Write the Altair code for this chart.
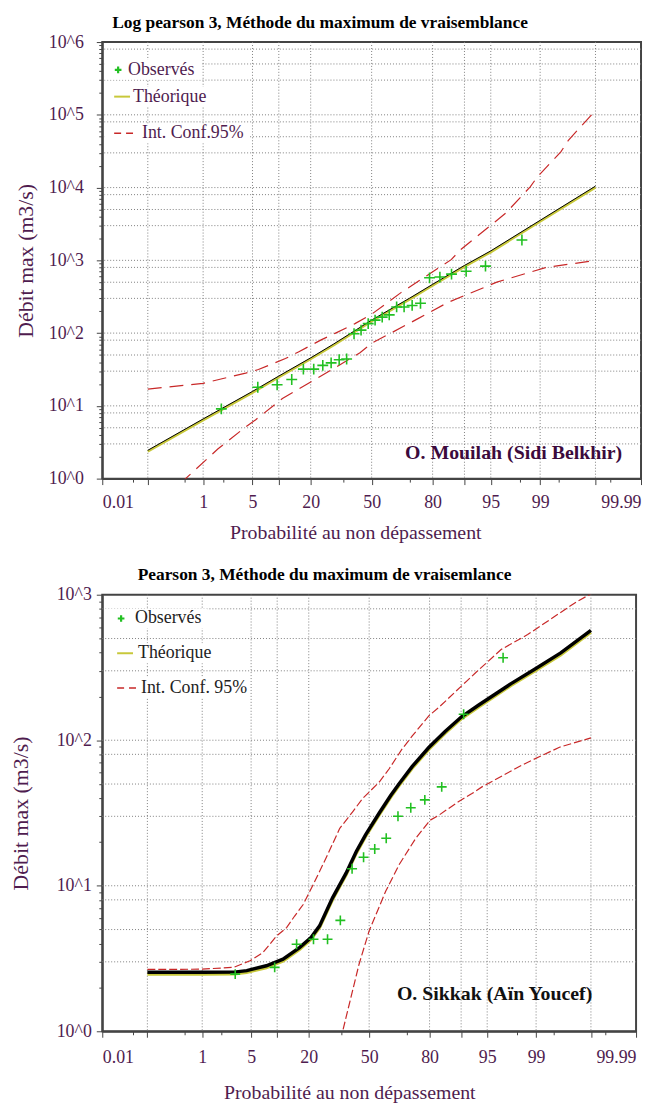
import altair as alt
import pandas as pd
from statistics import NormalDist

# ---------------- axis definitions ----------------
x_tick_probs = [0.01, 0.05, 0.1, 0.5, 1, 2, 5, 10, 20, 35, 50, 70, 80, 90, 95, 98, 99, 99.5, 99.9, 99.95, 99.99]
x_major_probs = [0.01, 0.1, 1, 5, 10, 20, 50, 80, 90, 95, 99, 99.9, 99.99]
x_grid_probs = [0.1, 1, 5, 10, 20, 50, 80, 90, 95, 99, 99.9]
x_label_probs = [0.01, 1, 5, 20, 50, 80, 95, 99, 99.99]
y_tick_mantissas = [1, 2, 3, 4, 5, 6, 7, 8, 9]
y_grid_mantissas = [1, 3, 5, 8]

# ---------------- top panel : Log Pearson 3 ----------------
top_obs_p = [1.9, 5.8, 9.6, 13.5, 17.3, 21.2, 25.0, 28.8, 32.7, 36.5, 40.4, 44.2, 48.1,
             51.9, 55.8, 59.6, 63.5, 67.3, 71.2, 75.0, 78.8, 82.7, 86.5, 90.4, 94.2, 98.1]
top_obs_q = [9.1, 18, 19.5, 23, 32, 32, 36, 39, 43, 44, 98, 110, 135,
             151, 166, 178, 229, 229, 240, 257, 575, 589, 646, 708, 832, 1905]
top_theo_p = [0.1, 1, 5, 10, 20, 30, 50, 70, 80, 90, 95, 99, 99.9]
top_theo_q = [2.45, 6.61, 15.8, 25.7, 45.7, 70.8, 151, 302, 468, 851, 1349, 3548, 10470]
top_up_p = [0.1, 1, 4.1, 5.9, 11.7, 15.6, 24.5, 30.9, 40.9, 50, 65.9, 86.4, 89.1,
            95.6, 96.8, 98.57, 98.9, 99.55, 99.67, 99.9]
top_up_q = [17.0, 20.4, 28.2, 31.6, 44.7, 55.0, 81.3, 100, 135, 182, 363, 1023, 1413,
            3388, 4467, 10230, 14130, 30900, 44670, 114800]
top_lo_p = [0.1, 0.51, 1.7, 4.09, 5.48, 10.9, 22.7, 43.6, 50, 73.9, 85.3, 95.8, 99.18, 99.9]
top_lo_q = [0.34, 1.0, 2.57, 5.13, 6.46, 12.6, 24.0, 53.7, 72.4, 158, 263, 501, 794, 1000]

# ---------------- bottom panel : Pearson 3 ----------------
bot_obs_p = [3.1, 9.4, 15.6, 21.9, 28.1, 34.4, 40.6, 46.9, 53.1, 59.4, 65.6, 71.9, 78.1, 84.4, 90.6, 96.9]
bot_obs_q = [2.47, 2.75, 3.96, 4.29, 4.29, 5.78, 13.1, 15.7, 17.9, 21.2, 30.0, 34.4, 38.9, 47.8, 151, 369]
bot_theo_p = [0.1, 1, 3, 4.4, 7.6, 11.5, 16.6, 20.9, 24.5, 30.5, 37.4, 42.9, 48.0, 55.6, 61.8,
              66.1, 72.6, 79.7, 85.5, 90.1, 93.6, 97.6, 98.96, 99.62, 99.9]
bot_theo_q = [2.54, 2.54, 2.55, 2.61, 2.82, 3.13, 3.76, 4.41, 5.30, 8.26, 12.2, 17.2, 22.4, 31.6, 41.7,
              50.1, 66.1, 89.1, 115, 145, 174, 245, 309, 398, 569]
bot_up_p = [0.1, 0.94, 2.94, 4.85, 6.94, 9.85, 12.5, 14.9, 17.9, 21.8, 27.4, 34.1, 40.9, 46.4,
            55.6, 61.0, 67.7, 72.6, 79.7, 83.4, 91.3, 93.1, 96.7, 98.64, 99.51, 99.81, 99.9]
bot_up_q = [2.66, 2.67, 2.75, 3.05, 3.47, 4.52, 5.15, 6.17, 7.43, 10.2, 15.5, 24.8, 32.2, 39.8,
            51.6, 63.7, 87.1, 107, 147, 168, 255, 291, 420, 532, 708, 897, 1012]
bot_lo_p = [34.5, 37.4, 44.4, 50, 59.1, 66.1, 74.2, 80.2, 83.4, 89.3, 92.4, 94.2, 98.3, 98.81, 99.6, 99.9]
bot_lo_q = [0.87, 1.25, 2.89, 4.90, 9.16, 13.9, 21.2, 28.2, 30.5, 37.8, 43.0, 47.8, 67.1, 72.6, 89.5, 103.8]

# ---------------- style ----------------
SERIF = "Liberation Serif"
PURPLE = "#4f1c4f"
GREEN = "#22c022"
YELLOW = "#c8c83a"
RED = "#c82828"
GRIDC = "#808080"
AXISC = "#444444"
PLUS = "M-1,0L1,0M0,-1L0,1"

nd = NormalDist()
def zq(p):
    return nd.inv_cdf(p / 100.0)

def js_list(vals):
    return "[" + ",".join(repr(v) for v in vals) + "]"

PEXPR = "round(cumulativeNormal(datum.value) * 10000) / 100"
X_LABEL_TEST = f"indexof({js_list(x_label_probs)}, {PEXPR}) >= 0"
X_MAJOR_TEST = f"indexof({js_list(x_major_probs)}, {PEXPR}) >= 0"
Y_DECADE_TEST = "abs(log(datum.value) / LN10 - round(log(datum.value) / LN10)) < 0.000001"

x_values = [zq(p) for p in x_tick_probs]
x_domain = [zq(0.01), zq(99.99)]
ZCALC = "quantileNormal(datum.p / 100)"
dummy = pd.DataFrame({"k": [0]})


def panel(title, title_dx, ymax_exp, W, H, obs, theo, up, lo, dash, theo_w, yel_off, plus_size,
          ylab_pad, ytitle_pad, xlab_pad, xtitle_pad, xtitle_x, legend, annot, annot_color):
    xaxis = alt.Axis(values=x_values, labelExpr=f"{X_LABEL_TEST} ? '' + {PEXPR} : ''",
                     labelFlush=True, labelOverlap=False, grid=False,
                     tickSize={"condition": {"test": X_MAJOR_TEST, "value": 6}, "value": 3.5},
                     tickColor=AXISC, domainColor=AXISC, domainWidth=2,
                     labelFont=SERIF, labelFontSize=18, labelColor=PURPLE, labelPadding=xlab_pad,
                     titleFont=SERIF, titleFontSize=20, titleColor=PURPLE, titleFontWeight="normal",
                     titlePadding=xtitle_pad, titleX=xtitle_x)
    y_values = [m * 10 ** k for k in range(0, ymax_exp) for m in y_tick_mantissas] + [10 ** ymax_exp]
    yaxis = alt.Axis(values=y_values,
                     labelExpr=f"{Y_DECADE_TEST} ? '10^' + round(log(datum.value) / LN10) : ''",
                     labelOverlap=False, grid=False,
                     tickSize={"condition": {"test": Y_DECADE_TEST, "value": 6}, "value": 3.5},
                     tickColor=AXISC, domainColor=AXISC, domainWidth=2,
                     labelFont=SERIF, labelFontSize=18, labelColor=PURPLE, labelPadding=ylab_pad,
                     titleFont=SERIF, titleFontSize=22, titleColor=PURPLE, titleFontWeight="normal",
                     titlePadding=ytitle_pad)
    X = alt.X("z:Q", scale=alt.Scale(domain=x_domain, nice=False, zero=False), axis=xaxis,
              title="Probabilité au non dépassement")
    Y = alt.Y("q:Q", scale=alt.Scale(type="log", domain=[1, 10 ** ymax_exp], nice=False), axis=yaxis,
              title="Débit max (m3/s)")

    gv = alt.Chart(pd.DataFrame({"p": x_grid_probs})).transform_calculate(z=ZCALC).mark_rule(
        color=GRIDC, strokeDash=[1, 2], strokeWidth=1).encode(x=X)
    hq = [m * 10 ** k for k in range(0, ymax_exp) for m in y_grid_mantissas]
    hq = [v for v in hq if 1 < v < 10 ** ymax_exp]
    gh = alt.Chart(pd.DataFrame({"q": hq})).mark_rule(
        color=GRIDC, strokeDash=[1, 2], strokeWidth=1).encode(y=Y)

    layers = [gv, gh]
    # legend backgrounds
    for (x1, x2, yc) in legend["boxes"]:
        layers.append(alt.Chart(dummy).mark_rect(color="white").encode(
            x=alt.value(x1), x2=alt.value(x2), y=alt.value(yc - 10), y2=alt.value(yc + 10)))

    def line(p, q, **kw):
        return alt.Chart(pd.DataFrame({"p": p, "q": q})).transform_calculate(z=ZCALC).mark_line(
            clip=True, **kw).encode(x=X, y=Y, order="p:Q")

    layers.append(line(up[0], up[1], color=RED, strokeWidth=1.2, strokeDash=dash))
    layers.append(line(lo[0], lo[1], color=RED, strokeWidth=1.2, strokeDash=dash))
    layers.append(line(theo[0], theo[1], color=YELLOW, strokeWidth=theo_w[0], yOffset=yel_off))
    layers.append(line(theo[0], theo[1], color="black", strokeWidth=theo_w[1]))
    layers.append(alt.Chart(pd.DataFrame({"p": obs[0], "q": obs[1]})).transform_calculate(z=ZCALC)
                  .mark_point(shape=PLUS, size=plus_size, filled=False, strokeWidth=1.6,
                              color=GREEN, opacity=1, clip=True).encode(x=X, y=Y))

    # legend symbols and texts
    sx, tx, rows = legend["sx"], legend["tx"], legend["rows"]
    layers.append(alt.Chart(dummy).mark_point(shape=PLUS, size=45, filled=False, strokeWidth=2.2,
                                              color=GREEN, opacity=1).encode(
        x=alt.value(sx + 4), y=alt.value(rows[0])))
    layers.append(alt.Chart(dummy).mark_rule(color=YELLOW, strokeWidth=2).encode(
        x=alt.value(sx), x2=alt.value(sx + 16), y=alt.value(rows[1])))
    layers.append(alt.Chart(dummy).mark_rule(color=RED, strokeWidth=1.5, strokeDash=[7, 5]).encode(
        x=alt.value(sx), x2=alt.value(sx + 20), y=alt.value(rows[2])))
    for txt, xx, yy in zip(legend["texts"], tx, rows):
        layers.append(alt.Chart(dummy).mark_text(text=txt, align="left", baseline="middle", font=SERIF,
                                                 fontSize=18, color=legend["color"]).encode(
            x=alt.value(xx), y=alt.value(yy)))
    # station annotation
    layers.append(alt.Chart(dummy).mark_text(text=annot["text"], align=annot["align"], baseline="middle",
                                             font=SERIF, fontSize=20, fontWeight="bold",
                                             color=annot_color).encode(
        x=alt.value(annot["x"]), y=alt.value(annot["y"])))

    return alt.layer(*layers).properties(
        width=W, height=H,
        title=alt.TitleParams(title, font=SERIF, fontSize=17.5, fontWeight="bold", color="black",
                              anchor="middle", offset=2, dx=title_dx))


top = panel("Log pearson 3, Méthode du maximum de vraisemblance", -52, 6, 543, 440,
            (top_obs_p, top_obs_q), (top_theo_p, top_theo_q), (top_up_p, top_up_q), (top_lo_p, top_lo_q),
            [14, 8], (2.5, 1.0), 1.2, 120,
            ylab_pad=13, ytitle_pad=11, xlab_pad=9, xtitle_pad=11, xtitle_x=255,
            legend={"sx": 12, "tx": [26, 31, 40], "rows": [28, 55, 92],
                    "texts": ["Observés", "Théorique", "Int. Conf.95%"], "color": PURPLE,
                    "boxes": [(2, 100, 28), (2, 112, 55), (2, 148, 92)]},
            annot={"text": "O. Mouilah (Sidi Belkhir)", "align": "right", "x": 524, "y": 414},
            annot_color="#3c0a3c")

bottom = panel("Pearson 3, Méthode du maximum de vraisemlance", -45, 3, 538, 440,
               (bot_obs_p, bot_obs_q), (bot_theo_p, bot_theo_q), (bot_up_p, bot_up_q), (bot_lo_p, bot_lo_q),
               [8, 3], (3.0, 3.5), 2.0, 100,
               ylab_pad=5, ytitle_pad=24, xlab_pad=11, xtitle_pad=17, xtitle_x=249,
               legend={"sx": 15, "tx": [33, 36, 39], "rows": [24, 59, 94],
                       "texts": ["Observés", "Théorique", "Int. Conf. 95%"], "color": "#222222",
                       "boxes": [(2, 106, 24), (2, 116, 59), (2, 148, 94)]},
               annot={"text": "O. Sikkak (Aïn Youcef)", "align": "left", "x": 297, "y": 402},
               annot_color="#111111")

chart = alt.concat(top, bottom, columns=1, spacing=22, align="none").properties(
    padding={"left": 0, "top": 0, "right": 0, "bottom": 0}
).configure_view(stroke=AXISC, strokeWidth=2)

chart.save("out.html", embed_options={"renderer": "svg", "actions": False})
